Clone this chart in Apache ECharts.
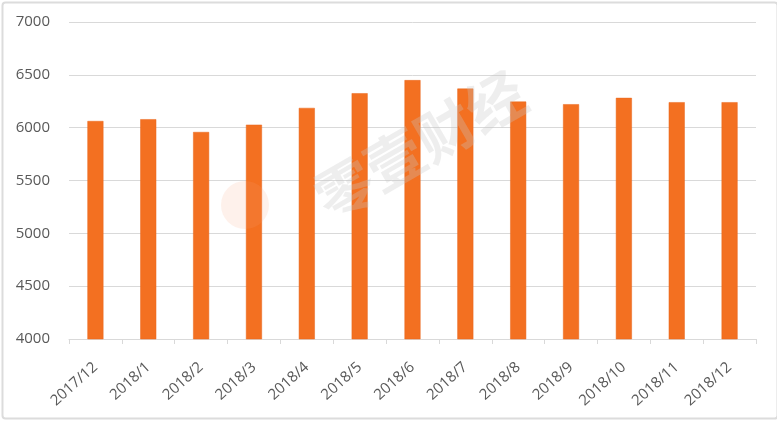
<!DOCTYPE html>
<html><head><meta charset="utf-8">
<script src="https://cdn.jsdelivr.net/npm/echarts@6/dist/echarts.min.js"></script>
<style>html,body{margin:0;padding:0;background:#fff}#c{width:777px;height:421px}</style>
</head><body><div id="c"></div>
<script>
const categories = ['2017/12','2018/1','2018/2','2018/3','2018/4','2018/5','2018/6','2018/7','2018/8','2018/9','2018/10','2018/11','2018/12'];
const values = [6063, 6080, 5959, 6028, 6187, 6326, 6450, 6370, 6247, 6222, 6282, 6241, 6241];
const yTicks = [4000, 4500, 5000, 5500, 6000, 6500, 7000];

const chart = echarts.init(document.getElementById('c'), null, {renderer: 'canvas'});
chart.setOption({
  animation: false,
  backgroundColor: '#ffffff',
  grid: {left: 69, right: 21, top: 22, bottom: 82, containLabel: false},
  xAxis: {
    type: 'category', data: categories, boundaryGap: true,
    axisLine: {lineStyle: {color: '#d9d9d9', width: 1}},
    axisTick: {show: true, alignWithLabel: false, length: 5, lineStyle: {color: '#d9d9d9'}},
    axisLabel: {rotate: 42, color: '#595959', fontSize: 15, fontFamily: 'Open Sans', margin: 26}
  },
  yAxis: {
    type: 'value', min: yTicks[0], max: yTicks[yTicks.length-1], interval: 500,
    axisLine: {show: false}, axisTick: {show: false},
    splitLine: {lineStyle: {color: '#d9d9d9', width: 1}},
    axisLabel: {color: '#595959', fontSize: 15, fontFamily: 'Open Sans', margin: 19,
                formatter: v => String(v)}
  },
  series: [{
    type: 'bar', data: values, barWidth: 16,
    itemStyle: {color: '#F37021', borderColor: '#E8661C', borderWidth: 0.5}
  }],
  graphic: [
    {type: 'rect', left: 0, top: 0, shape: {x: 0.5, y: 0.5, width: 775, height: 416, r: 3},
     style: {fill: 'none', stroke: '#dcdcdc', lineWidth: 2}, silent: true},
    {type: 'text', left: 305, top: 62, rotation: Math.PI * 30 / 180, z: 100,
     style: {text: '零壹财经', fill: 'rgba(200,200,200,0.3)', font: 'bold 58px "Noto Sans CJK SC"'}},
    {type: 'circle', shape: {cx: 245, cy: 205, r: 24}, z: 100,
     style: {fill: 'rgba(246,160,120,0.15)'}}
  ]
});
</script></body></html>
